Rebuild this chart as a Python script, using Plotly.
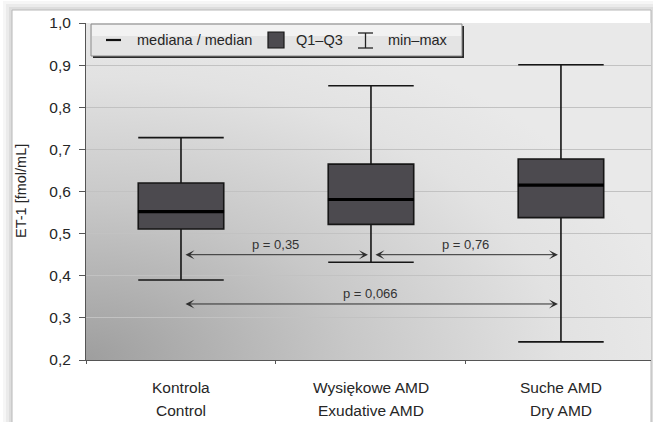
import base64
import plotly.graph_objects as go

# ---------------- data ----------------
categories_pl = ["Kontrola", "Wysiękowe AMD", "Suche AMD"]
categories_en = ["Control", "Exudative AMD", "Dry AMD"]
et1_min = [0.39, 0.432, 0.243]
et1_q1 = [0.511, 0.522, 0.538]
et1_median = [0.552, 0.581, 0.615]
et1_q3 = [0.620, 0.665, 0.677]
et1_max = [0.728, 0.851, 0.901]
y_ticks = [0.2, 0.3, 0.4, 0.5, 0.6, 0.7, 0.8, 0.9, 1.0]
comparisons_from = [0, 1, 0]
comparisons_to = [1, 2, 2]
p_values = ["0,35", "0,76", "0,066"]

# ---------------- layout geometry ----------------
W, H = 653, 422
ML, MR, MT, MB = 86, 2, 23, 62
PW, PH = W - ML - MR, H - MT - MB


def px(x):
    return (x - ML) / PW


def py(y):
    return (H - MB - y) / PH


FONT = "Liberation Sans, Arial, sans-serif"
BOX_FILL = "#4c4a4f"
BOX_LINE = "#161616"

fig = go.Figure()

fig.add_trace(go.Box(
    x=categories_pl,
    q1=et1_q1, median=et1_median, q3=et1_q3,
    lowerfence=et1_min, upperfence=et1_max,
    width=0.45, whiskerwidth=1,
    fillcolor=BOX_FILL,
    line=dict(color=BOX_LINE, width=1.6),
    boxpoints=False, showlegend=False, hoverinfo="skip",
))

# thick median lines
fig.add_trace(go.Scatter(
    x=categories_pl, y=et1_median, mode="markers",
    marker=dict(symbol="line-ew", size=61.5,
                line=dict(color="#000000", width=3.2)),
    showlegend=False, hoverinfo="skip",
))

# gradient background of the plot area (svg)
svg = (
    '<svg xmlns="http://www.w3.org/2000/svg" width="100" height="100" '
    'preserveAspectRatio="none" viewBox="0 0 100 100">'
    '<defs><radialGradient id="g" cx="0" cy="1" r="1.05" '
    'gradientUnits="objectBoundingBox">'
    '<stop offset="0" stop-color="#9e9e9e"/>'
    '<stop offset="0.45" stop-color="#c8c8c8"/>'
    '<stop offset="0.8" stop-color="#e2e2e2"/>'
    '<stop offset="1" stop-color="#e9e9e9"/>'
    '</radialGradient></defs>'
    '<rect x="0" y="0" width="100" height="100" fill="url(#g)"/></svg>'
)
svg_uri = "data:image/svg+xml;base64," + base64.b64encode(svg.encode()).decode()
fig.add_layout_image(dict(
    source=svg_uri, xref="x domain", yref="y domain",
    x=0, y=1, sizex=1, sizey=1, xanchor="left", yanchor="top",
    sizing="stretch", layer="below",
))

shapes = []
# card shadow + card
for i, op in enumerate([0.035, 0.045, 0.06]):
    off = 9 - 3 * i
    shapes.append(dict(type="rect", xref="paper", yref="paper", layer="below",
                       x0=px(12 - off), x1=px(W + 10), y0=py(10 - off), y1=py(H + 10),
                       fillcolor="#000000", opacity=op, line=dict(width=0)))
shapes.append(dict(type="rect", xref="paper", yref="paper", layer="below",
                   x0=px(12), x1=px(651), y0=py(10), y1=py(H + 10),
                   fillcolor="#ffffff", line=dict(color="#b8b8b8", width=1)))

# legend box
lx0, lx1, ly0, ly1 = 91, 462, 24, 56
shapes.append(dict(type="rect", xref="paper", yref="paper", layer="above",
                   x0=px(lx0 + 2), x1=px(lx1 + 2), y0=py(ly0 + 2), y1=py(ly1 + 2),
                   fillcolor="#2a2a2a", line=dict(width=0)))
shapes.append(dict(type="rect", xref="paper", yref="paper", layer="above",
                   x0=px(lx0), x1=px(lx1), y0=py(ly0), y1=py(ly1),
                   fillcolor="#e4e4e4", line=dict(color="#8a8a8a", width=1)))
shapes.append(dict(type="rect", xref="paper", yref="paper", layer="above",
                   x0=px(lx0 + 1), x1=px(lx1 - 1), y0=py(ly0 + 1), y1=py(ly0 + 12),
                   fillcolor="#f2f2f2", line=dict(width=0)))
ymid = 40
# median icon
shapes.append(dict(type="line", xref="paper", yref="paper", layer="above",
                   x0=px(106), x1=px(121), y0=py(ymid), y1=py(ymid),
                   line=dict(color="#111111", width=2.2)))
# Q1-Q3 icon
shapes.append(dict(type="rect", xref="paper", yref="paper", layer="above",
                   x0=px(268), x1=px(284), y0=py(ymid - 8), y1=py(ymid + 8),
                   fillcolor=BOX_FILL, line=dict(color=BOX_LINE, width=1.2)))
# min-max icon
for yy in (ymid - 7, ymid + 8):
    shapes.append(dict(type="line", xref="paper", yref="paper", layer="above",
                       x0=px(358), x1=px(373), y0=py(yy), y1=py(yy),
                       line=dict(color="#222222", width=1.3)))
shapes.append(dict(type="line", xref="paper", yref="paper", layer="above",
                   x0=px(365.5), x1=px(365.5), y0=py(ymid - 7), y1=py(ymid + 8),
                   line=dict(color="#222222", width=1.3)))

annotations = []
for txt, xl in [("mediana / median", 135), ("Q1–Q3", 294), ("min–max", 386)]:
    annotations.append(dict(text=txt, xref="paper", yref="paper", x=px(xl), y=py(ymid),
                            xanchor="left", yanchor="middle", showarrow=False,
                            font=dict(family=FONT, size=14.5, color="#262626")))

# x category labels (two languages)
for i in range(len(categories_pl)):
    annotations.append(dict(text=categories_pl[i], xref="x", yref="paper", x=i, y=py(387),
                            xanchor="center", yanchor="middle", showarrow=False,
                            font=dict(family=FONT, size=15.5, color="#262626")))
    annotations.append(dict(text=categories_en[i], xref="x", yref="paper", x=i, y=py(410),
                            xanchor="center", yanchor="middle", showarrow=False,
                            font=dict(family=FONT, size=15.5, color="#262626")))

# y axis title
annotations.append(dict(text="ET-1 [fmol/mL]", xref="paper", yref="paper", x=px(21), y=py(191),
                        textangle=-90, xanchor="center", yanchor="middle", showarrow=False,
                        font=dict(family=FONT, size=14.5, color="#262626")))

# comparison arrows
arrow_levels = [0.45, 0.45, 0.333]
for a, b, p, lev in zip(comparisons_from, comparisons_to, p_values, arrow_levels):
    annotations.append(dict(
        x=b, y=lev, ax=a, ay=lev, xref="x", yref="y", axref="x", ayref="y",
        text="", showarrow=True, arrowside="end+start", arrowhead=3, startarrowhead=3,
        arrowsize=1.5, startarrowsize=1.5, arrowwidth=1.0, arrowcolor="#2e2e2e",
        standoff=3, startstandoff=3,
    ))
    annotations.append(dict(
        x=(a + b) / 2, y=lev, xref="x", yref="y", text="p = " + p, showarrow=False,
        yshift=10, xanchor="center", yanchor="middle",
        font=dict(family=FONT, size=13, color="#333333"),
    ))

fig.update_layout(
    width=W, height=H,
    margin=dict(l=ML, r=MR, t=MT, b=MB, pad=0),
    paper_bgcolor="#ffffff",
    plot_bgcolor="rgba(0,0,0,0)",
    separators=", ",
    showlegend=False,
    shapes=shapes,
    annotations=annotations,
    font=dict(family=FONT, size=15, color="#262626"),
    xaxis=dict(
        type="category", range=[-0.5, 2.474], showgrid=False,
        showticklabels=False, tickson="boundaries", ticks="outside", ticklen=3,
        tickcolor="#555555", showline=True, linecolor="#555555", linewidth=1,
        zeroline=False, fixedrange=True,
    ),
    yaxis=dict(
        range=[0.2, 1.0], tickvals=y_ticks, tickformat=".1f",
        ticks="outside", ticklen=6, tickcolor="#555555", ticklabelstandoff=5,
        showgrid=True, gridcolor="#c2c2c2", gridwidth=1,
        showline=True, linecolor="#555555", linewidth=1, zeroline=False,
        tickfont=dict(family=FONT, size=15.5, color="#262626"), fixedrange=True,
    ),
)

fig.write_html(
    "out.html",
    config={"displayModeBar": False},
    post_script="document.body.style.margin='0';document.body.style.overflow='hidden';",
)
